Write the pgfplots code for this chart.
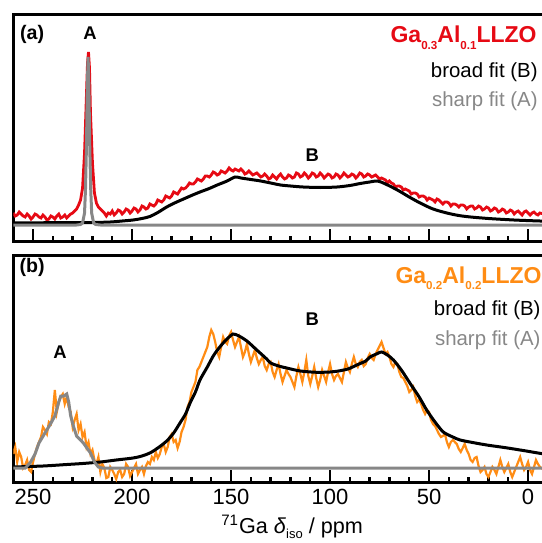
\documentclass[border=0pt]{standalone}
\usepackage{fontspec}
\setmainfont{Liberation Sans}
\usepackage{pgfplots}
\pgfplotsset{compat=1.18}
\definecolor{myred}{RGB}{230,10,20}
\definecolor{myorange}{RGB}{255,140,20}
\definecolor{mygray}{RGB}{135,135,135}
\newcommand{\sub}[1]{\raisebox{-3.3pt}{\fontsize{5.8}{6}\selectfont #1}}
\begin{document}
\begin{tikzpicture}
\pgfplotsset{every axis/.append style={scale only axis, width=267.3pt, x dir=reverse, xmin=-10, xmax=260,
  axis line style={line width=1.5pt}, ytick=\empty, xtick={0,50,...,250}, minor x tick num=4,
  xtick pos=left, tick align=inside, major tick length=6pt, minor tick length=2.5pt,
  every tick/.style={black, line width=1.2pt},
  /pgf/number format/assume math mode=true,
  tick label style={font=\fontsize{11}{13}\selectfont}}}
\begin{axis}[name=top, height=113pt, ymin=-8, ymax=218, xticklabels={}]
\addplot[myred, line width=1.4pt] coordinates {
(260,20)(259,17)(258,18)(257,21)(256,19)(255,17)(254,16)(253,19)(252,17)(251,14)(250,16)(249,19)(248,18)(247,16)(246,15)(245,18)(244,16)(243,13)(242,14)(241,17)(240,16)(239,14)(238,17)(237,19)(236,15)(235,16)(234,18)(233,15)(232,17)(231,19)(230,20)(229,22)(228,24)(227,28)(226,33)(225,45)(224,80)(223,140)(222.5,170)(222,181)(221.5,165)(221,120)(220,70)(219,40)(218,30)(217,26)(216,24)(215,22)(214,20)(213,17)(212,20)(211,19)(210,22)(209,18)(208,20)(207,23)(206,22)(205,19)(204,21)(203,24)(202,23)(201,20)(200,22)(199,25)(198,24)(197,21)(196,23)(195,27)(194,26)(193,24)(192,25)(191,29)(190,28)(189,27)(188,29)(187,33)(186,32)(185,31)(184,33)(183,37)(182,36)(181,35)(180,37)(179,41)(178,40)(177,39)(176,42)(175,45)(174,44)(173,45)(172,47)(171,50)(170,49)(169,49)(168,51)(167,54)(166,53)(165,52)(164,54)(163,57)(162,57)(161,56)(160,58)(159,61)(158,60)(157,58)(156,59)(155,62)(154,61)(153,60)(152,62)(151,65)(150,63)(149,62)(148,64)(147,63)(146,62)(145,64)(144,62)(143,59)(142,60)(141,62)(140,60)(139,58)(138,59)(137,60)(136,58)(135,56)(134,57)(133,59)(132,57)(131,54)(130,55)(129,58)(128,56)(127,54)(126,57)(125,59)(124,56)(123,54)(122,55)(121,58)(120,57)(119,55)(118,56)(117,60)(116,59)(115,56)(114,57)(113,60)(112,58)(111,55)(110,57)(109,60)(108,59)(107,56)(106,57)(105,60)(104,58)(103,55)(102,57)(101,59)(100,58)(99,55)(98,56)(97,59)(96,58)(95,55)(94,57)(93,60)(92,58)(91,56)(90,57)(89,59)(88,58)(87,55)(86,57)(85,60)(84,59)(83,56)(82,57)(81,59)(80,58)(79,56)(78,57)(77,58)(76,56)(75,54)(74,55)(73,54)(72,53)(71,50)(70,52)(69,50)(68,49)(67,46)(66,47)(65,47)(64,46)(63,43)(62,44)(61,43)(60,42)(59,39)(58,40)(57,40)(56,39)(55,36)(54,37)(53,37)(52,36)(51,33)(50,35)(49,34)(48,33)(47,31)(46,34)(45,33)(44,31)(43,29)(42,31)(41,31)(40,30)(39,27)(38,29)(37,29)(36,28)(35,26)(34,28)(33,28)(32,27)(31,24)(30,26)(29,27)(28,27)(27,24)(26,25)(25,27)(24,26)(23,23)(22,24)(21,26)(20,25)(19,22)(18,23)(17,25)(16,24)(15,21)(14,22)(13,24)(12,23)(11,20)(10,21)(9,23)(8,22)(7,19)(6,21)(5,22)(4,20)(3,18)(2,21)(1,22)(0,20)(-1,18)(-2,20)(-3,21)(-4,19)(-5,18)(-6,20)(-8,19)(-10,20)};
\addplot[black, line width=1.5pt, smooth] coordinates {
(260,10)(250,10.2)(240,10.3)(230,10.5)(220,10.5)(211,11)(205,12)(199.5,13)(195,14.5)(191,16.5)(187,20.5)(182.5,26)(178,30.5)(174,34)(170,37.5)(165.7,41)(161,44.5)(157,48)(152,52)(148,56)(145,55)(140,53.5)(135,52)(130,50)(125,48)(120,47)(113.6,46)(105,45.5)(96.5,46)(90,47.5)(84.8,49.5)(80,51)(76,52)(72,49)(66,43)(60,36)(54.5,30)(48,24)(41,20)(35,17.5)(29,16)(20,14.5)(12.6,13.6)(5,12.8)(-6,12)(-10,11.8)};
\addplot[mygray, line width=1.5pt] coordinates {
(260,8)(228,8)(226,8.5)(225,10)(224,20)(223.5,45)(223,90)(222.6,145)(222.2,176)(221.8,145)(221.4,90)(220.9,45)(220.4,20)(219.4,10)(218.4,8.5)(216,8)(-10,8)};
\node[font=\bfseries\fontsize{9.8}{11}\selectfont] at (axis cs:250.5,199) {(a)};
\node[font=\bfseries\fontsize{9.2}{10}\selectfont] at (axis cs:221.2,200) {A};
\node[font=\bfseries\fontsize{9.2}{10}\selectfont] at (axis cs:109,78) {B};
\node[anchor=base east, inner sep=0pt, text=myred, font=\bfseries\fontsize{11.5}{13}\selectfont] at (axis cs:-4.5,190) {Ga\sub{0.3}Al\sub{0.1}LLZO};
\node[anchor=base east, inner sep=0pt, font=\fontsize{10.2}{12}\selectfont] at (axis cs:-5,155) {broad fit (B)};
\node[anchor=base east, inner sep=0pt, text=mygray, font=\fontsize{10.2}{12}\selectfont] at (axis cs:-5,126) {sharp fit (A)};
\coordinate (tl) at (axis cs:266.7,233);
\end{axis}
\begin{axis}[name=bot, at={(top.south west)}, yshift=-7pt, anchor=north west, height=113.5pt, ymin=0, ymax=227,
  xlabel={\textsuperscript{71}Ga \textit{δ}\raisebox{-2.5pt}{\fontsize{6.5}{7}\selectfont iso} / ppm},
  xlabel style={at={(axis description cs:0.5215,-0.2247)}, anchor=base, font=\fontsize{10.8}{12}\selectfont}]
\addplot[myorange, line width=1.1pt] coordinates {
(260,28)(259,35)(258,20)(257,30)(256,25)(255,14)(254,17)(253,22)(252,12)(251,10)(250,20)(249,28)(248,35)(247,40)(246,45)(245,55)(244,52)(243,48)(242,60)(241,58)(240,70)(239,92)(238,70)(237,80)(236,85)(235,88)(234,78)(233,85)(232,75)(231,70)(230,55)(229,62)(228,68)(227,52)(226,58)(225,45)(224,50)(223,35)(222,40)(221,28)(220,32)(219,22)(218,18)(217,25)(216,10)(215,18)(214,14)(213,4)(212,5)(211,15)(210,12)(209,8)(208,3)(207,10)(206,12)(205,5)(204,8)(203,18)(202,15)(201,6)(200,10)(199,14)(198,18)(197,8)(196,12)(195,15)(194,8)(193,16)(192,20)(191,18)(190,25)(189,22)(188,30)(187,24)(186,28)(185,35)(184,38)(183,30)(182,35)(181,45)(180,48)(179,40)(178,42)(177,34)(176,40)(175,50)(174,55)(173,62)(172,75)(171,80)(170,90)(169,95)(168,100)(167,112)(166,115)(165,120)(164,125)(163,130)(162,135)(161,145)(160,152)(159,148)(158,140)(157,130)(156,125)(155,135)(154,145)(153,140)(152,138)(151,146)(150,150)(149,142)(148,135)(147,140)(146,145)(145,135)(144,125)(143,130)(142,138)(141,128)(140,120)(139,126)(138,132)(137,124)(136,118)(135,122)(134,125)(133,116)(132,112)(131,118)(130,120)(129,110)(128,105)(127,112)(126,118)(125,108)(124,100)(123,106)(122,112)(121,108)(120,105)(119,100)(118,95)(117,106)(116,115)(115,108)(114,100)(113,110)(112,122)(111,106)(110,98)(109,106)(108,115)(107,104)(106,95)(105,102)(104,112)(103,106)(102,100)(101,110)(100,118)(99,108)(98,102)(97,106)(96,108)(95,104)(94,100)(93,110)(92,120)(91,114)(90,110)(89,118)(88,125)(87,118)(86,115)(85,120)(84,122)(83,116)(82,118)(81,124)(80,128)(79,124)(78,122)(77,128)(76,132)(75,136)(74,140)(73,134)(72,128)(71,130)(70,125)(69,118)(68,115)(67,120)(66,118)(65,110)(64,105)(63,104)(62,100)(61,96)(60,90)(59,92)(58,95)(57,86)(56,80)(55,82)(54,78)(53,72)(52,68)(51,72)(50,70)(49,62)(48,58)(47,56)(46,52)(45,48)(44,45)(43,46)(42,48)(41,40)(40,35)(39,40)(38,42)(37,40)(36,38)(35,33)(34,30)(33,34)(32,38)(31,32)(30,28)(29,22)(28,20)(27,24)(26,25)(25,16)(24,10)(23,12)(22,15)(21,8)(20,5)(19,10)(18,15)(17,12)(16,8)(15,15)(14,22)(13,15)(12,10)(11,14)(10,18)(9,10)(8,5)(7,10)(6,15)(5,20)(4,25)(3,18)(2,12)(1,15)(0,20)(-1,12)(-2,8)(-3,15)(-4,22)(-5,18)(-6,15)(-8,12)(-10,18)};
\addplot[black, line width=1.5pt, smooth] coordinates {
(260,15)(245,16)(233,17.5)(225,18.5)(216,20)(208,22)(199.5,24)(195,26)(191,29)(187,34)(182.5,41)(179,49)(175.8,59)(173,68)(170.7,79)(168,90)(165.7,102)(162,115)(159,126)(156.5,133)(154,139)(151.5,144)(149,148)(146,146)(142,141)(137,132)(132,123)(130,119)(126,116)(121.9,114)(115,111)(106.7,109.7)(100,110)(96.6,110.7)(91,113)(86.5,117)(82,121)(79.8,125)(76,128.5)(73.9,130)(71,127)(68,122)(64,112)(59.6,98.7)(55,85)(51.2,72)(47,60)(42.8,50)(38,45)(34.3,42)(28,39.5)(20.9,37)(12,34.5)(4,32)(-6,28.7)(-10,27.5)};
\addplot[mygray, line width=1.5pt] coordinates {
(260,14)(254,14)(251.5,19)(249,28)(247,39)(244,49)(241.5,57)(239,66)(237,80)(236,86)(234.5,86)(233,88)(232,80)(231,66)(229.5,55)(228,46)(224.6,39)(221,29)(219,20)(217,15)(215,14)(-10,14)};
\node[font=\bfseries\fontsize{9.8}{11}\selectfont] at (axis cs:250.5,215) {(b)};
\node[font=\bfseries\fontsize{9.2}{10}\selectfont] at (axis cs:236.4,130) {A};
\node[font=\bfseries\fontsize{9.2}{10}\selectfont] at (axis cs:109,163) {B};
\node[anchor=base east, inner sep=0pt, text=myorange, font=\bfseries\fontsize{11.5}{13}\selectfont] at (axis cs:-7,199) {Ga\sub{0.2}Al\sub{0.2}LLZO};
\node[anchor=base east, inner sep=0pt, font=\fontsize{10.2}{12}\selectfont] at (axis cs:-6.5,167) {broad fit (B)};
\node[anchor=base east, inner sep=0pt, text=mygray, font=\fontsize{10.2}{12}\selectfont] at (axis cs:-6.5,137) {sharp fit (A)};
\coordinate (br) at (axis cs:-6.57,-61);
\end{axis}
\pgfresetboundingbox
\path[use as bounding box] (tl) rectangle (br);
\end{tikzpicture}
\end{document}
